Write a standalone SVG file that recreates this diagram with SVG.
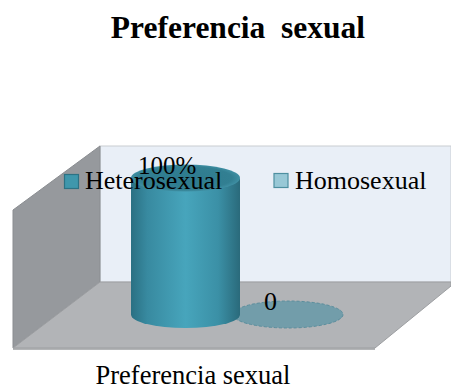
<svg xmlns="http://www.w3.org/2000/svg" width="451" height="390" viewBox="0 0 451 390">
<defs>
<style>
.t{font-family:"Liberation Serif","Times New Roman",serif;fill:#000}
</style>
<linearGradient id="cyl" x1="0" y1="0" x2="1" y2="0">
<stop offset="0" stop-color="#2A7083"/>
<stop offset="0.15" stop-color="#388AA0"/>
<stop offset="0.5" stop-color="#47A5BC"/>
<stop offset="0.8" stop-color="#3B90A6"/>
<stop offset="1" stop-color="#2A6A7B"/>
</linearGradient>
<radialGradient id="top" cx="0.5" cy="0.5" r="0.5">
<stop offset="0" stop-color="#2E7B8E"/>
<stop offset="0.85" stop-color="#327F92"/>
<stop offset="1" stop-color="#3F8FA3"/>
</radialGradient>
</defs>
<rect width="451" height="390" fill="#fff"/>
<text id="title" class="t" x="238" y="38" font-size="31.5" font-weight="bold" text-anchor="middle" xml:space="preserve">Preferencia  sexual</text>
<g id="walls">
<rect x="100" y="146" width="351" height="136" fill="#E9EFF7" stroke="#C9CDD2" stroke-width="1"/>
<polygon points="13,210 100,146 100,282 13,348" fill="#96999D" stroke="#8A8D91" stroke-width="1"/>
<polygon points="100,282 451,282 451,286 375,348 13,348" fill="#B2B4B7" stroke="#9C9EA1" stroke-width="1"/>
<line x1="13" y1="349" x2="375" y2="349" stroke="#9A9C9F" stroke-width="1.5"/>
</g>
<g id="series-homosexual">
<ellipse cx="288" cy="314.5" rx="55" ry="13.5" fill="#6A9AA8" fill-opacity="0.9" stroke="#5A8D9C" stroke-width="1" stroke-dasharray="3,2"/>
</g>
<g id="series-heterosexual">
<path d="M131,178.5 L131,314.5 A54.5,13.5 0 0 0 240,314.5 L240,178.5 Z" fill="url(#cyl)"/>
<ellipse cx="185.5" cy="178" rx="54.5" ry="13.5" fill="url(#top)"/>
</g>
<g id="legend">
<rect x="64.5" y="174.5" width="14" height="14" fill="#3F97AC" stroke="#2D7284" stroke-width="1.2"/>
<text class="t" x="85" y="189" font-size="26">Heterosexual</text>
<rect x="274" y="173.5" width="14" height="14" fill="#98C8D6" stroke="#4E8FA0" stroke-width="1.2"/>
<text class="t" x="295" y="189" font-size="26">Homosexual</text>
</g>
<g id="labels">
<text class="t" x="138" y="174" font-size="25">100%</text>
<text class="t" x="264" y="310" font-size="26">0</text>
<text class="t" x="193" y="384" font-size="26.5" text-anchor="middle">Preferencia sexual</text>
</g>
</svg>
